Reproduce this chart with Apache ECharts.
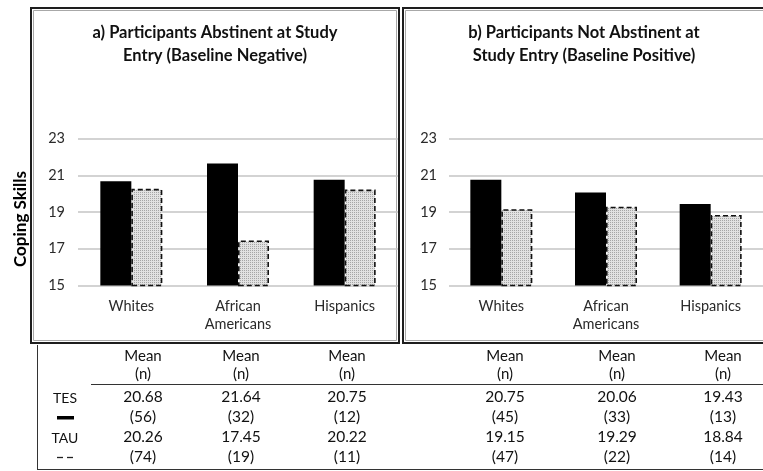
<!DOCTYPE html>
<html>
<head>
<meta charset="utf-8">
<script src="https://cdn.jsdelivr.net/npm/echarts@6/dist/echarts.min.js"></script>
<style>
  html, body { margin: 0; padding: 0; background: #fff; }
  #chart { width: 763px; height: 471px; }
</style>
</head>
<body>
<div id="chart"></div>
<script>
// Coping skills by ethnicity, TES vs TAU, split by baseline abstinence
const categories = ['Whites', 'African\nAmericans', 'Hispanics'];
const tesMeanA = [20.68, 21.64, 20.75];
const tauMeanA = [20.26, 17.45, 20.22];
const tesMeanB = [20.75, 20.06, 19.43];
const tauMeanB = [19.15, 19.29, 18.84];
const tesNA = [56, 32, 12];
const tauNA = [74, 19, 11];
const tesNB = [45, 33, 13];
const tauNB = [47, 22, 14];
const yMin = 15, yMax = 23, yStep = 2;
const panelTitles = [
  'a) Participants Abstinent at Study\nEntry (Baseline Negative)',
  'b) Participants Not Abstinent at\nStudy Entry (Baseline Positive)'
];
const yAxisName = 'Coping Skills';
const groupNames = ['TES', 'TAU'];

const FONT = 'Lato, "Open Sans", sans-serif';

// stippled grey fill for the TAU bars
function stipple() {
  const c = document.createElement('canvas');
  c.width = 2; c.height = 2;
  const g = c.getContext('2d');
  g.fillStyle = '#e2e2e2'; g.fillRect(0, 0, 2, 2);
  g.fillStyle = '#a6a6a6'; g.fillRect(0, 0, 1, 1);
  return c;
}
const tauFill = { image: stipple(), repeat: 'repeat' };

const chart = echarts.init(document.getElementById('chart'), null, { renderer: 'canvas' });

const grids = [
  { left: 78, top: 138.5, width: 320, height: 147 },
  { left: 449, top: 138.5, width: 315, height: 147 }
];
const labelMargins = [13, 12];

function yAxisFor(i) {
  return {
    type: 'value', gridIndex: i, min: yMin, max: yMax, interval: yStep,
    axisLine: { show: false }, axisTick: { show: false },
    axisLabel: { color: '#2a2a2a', fontSize: 14.5, fontFamily: FONT, margin: labelMargins[i] },
    splitLine: { lineStyle: { color: '#c4c4c4', width: 1.5 } }
  };
}
function xAxisFor(i) {
  return {
    type: 'category', gridIndex: i, data: categories,
    axisLine: { show: false }, axisTick: { show: false },
    axisLabel: { color: '#2a2a2a', fontSize: 14.5, fontFamily: FONT, margin: 12, lineHeight: 18, interval: 0 }
  };
}
function barsFor(i, tes, tau) {
  return [
    {
      type: 'bar', name: groupNames[0], xAxisIndex: i, yAxisIndex: i, data: tes,
      barWidth: 31, barGap: '0%',
      itemStyle: { color: '#000' }, silent: true
    },
    {
      type: 'bar', name: groupNames[1], xAxisIndex: i, yAxisIndex: i, data: tau,
      barWidth: 31, barGap: '0%',
      itemStyle: { color: tauFill, borderColor: '#111', borderWidth: 1.6, borderType: [5, 3] },
      silent: true
    }
  ];
}

// panel frames and the summary table underneath
const graphics = [];
function frame(x, y, w, h) {
  graphics.push({ type: 'rect', shape: { x: x, y: y, width: w, height: h },
    style: { fill: null, stroke: '#1e1e1e', lineWidth: 2 }, silent: true });
  graphics.push({ type: 'rect', shape: { x: x + 2.5, y: y + 2.5, width: w - 5, height: h - 5 },
    style: { fill: null, stroke: '#a8a8a8', lineWidth: 1 }, silent: true });
}
frame(31, 8, 368, 335);
frame(403, 8, 368, 335);

function line(x1, y1, x2, y2, color, width, dash) {
  graphics.push({ type: 'line', shape: { x1: x1, y1: y1, x2: x2, y2: y2 },
    style: { stroke: color, lineWidth: width, lineDash: dash || null }, silent: true });
}
function text(str, x, y, size, weight, align) {
  graphics.push({ type: 'text', x: x, y: y, silent: true,
    style: { text: str, fill: '#111', font: (weight || 'normal') + ' ' + size + 'px ' + FONT,
      textAlign: align || 'center', textVerticalAlign: 'middle' } });
}

// panel titles
const titleX = [215, 584];
panelTitles.forEach(function (t, i) {
  t.split('\n').forEach(function (ln, k) { text(ln, titleX[i], 33 + k * 23, 16.5, 'bold'); });
});
// y-axis name
graphics.push({ type: 'text', x: 21, y: 219, rotation: Math.PI / 2, silent: true,
  style: { text: yAxisName, fill: '#000', font: 'bold 17px ' + FONT,
    textAlign: 'center', textVerticalAlign: 'middle' } });

// table rules
line(37.5, 345, 37.5, 469.5, '#333', 1);
line(37, 469.5, 763, 469.5, '#333', 1);
line(91, 384.5, 763, 384.5, '#333', 1);

// table body
const colX = [143, 241, 347, 505, 617, 723];
const tesMeans = tesMeanA.concat(tesMeanB);
const tauMeans = tauMeanA.concat(tauMeanB);
const tesNs = tesNA.concat(tesNB);
const tauNs = tauNA.concat(tauNB);
const rowY = [356, 374, 397, 417, 437, 457];
colX.forEach(function (x, j) {
  text('Mean', x, rowY[0], 15);
  text('(n)', x, rowY[1], 15);
  text(tesMeans[j].toFixed(2), x, rowY[2], 15.5);
  text('(' + tesNs[j] + ')', x, rowY[3], 15.5);
  text(tauMeans[j].toFixed(2), x, rowY[4], 15.5);
  text('(' + tauNs[j] + ')', x, rowY[5], 15.5);
});
text(groupNames[0], 65, rowY[2] + 1, 14);
text(groupNames[1], 65, rowY[4] + 1, 14);
graphics.push({ type: 'rect', shape: { x: 57, y: 416, width: 17, height: 3.5 },
  style: { fill: '#000' }, silent: true });
line(57, 457.5, 63, 457.5, '#222', 1.3);
line(67, 457.5, 73, 457.5, '#222', 1.3);

chart.setOption({
  animation: false,
  backgroundColor: '#fff',
  grid: grids,
  xAxis: [xAxisFor(0), xAxisFor(1)],
  yAxis: [yAxisFor(0), yAxisFor(1)],
  series: barsFor(0, tesMeanA, tauMeanA).concat(barsFor(1, tesMeanB, tauMeanB)),
  graphic: graphics
});
</script>
</body>
</html>
